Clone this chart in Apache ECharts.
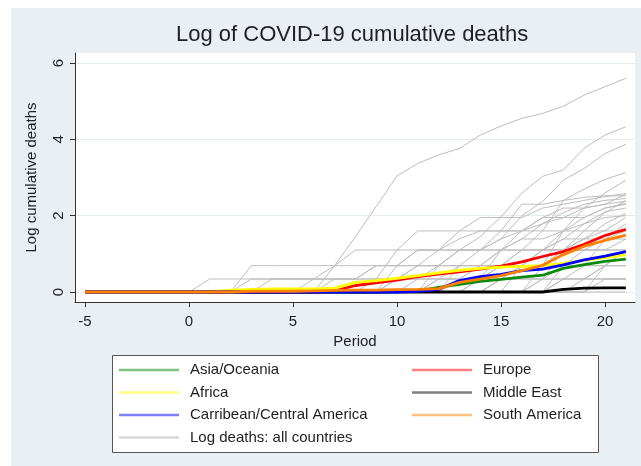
<!DOCTYPE html>
<html><head><meta charset="utf-8">
<script src="https://cdn.jsdelivr.net/npm/echarts@6/dist/echarts.min.js"></script>
<style>html,body{margin:0;padding:0;background:#fff}#c{width:641px;height:466px}</style>
</head><body><div id="c"></div>
<script>
const periods = [-5,-4,-3,-2,-1,0,1,2,3,4,5,6,7,8,9,10,11,12,13,14,15,16,17,18,19,20,21];
const xTicks = [-5,0,5,10,15,20];
const yTicks = [0,2,4,6];

const asiaOceania = [0,0,0,0,0,0,0,0,0,0,0,0,0,0,0,0.01,0.03,0.12,0.2,0.28,0.33,0.39,0.44,0.62,0.72,0.8,0.86];
const europe = [0,0,0,0,0,0,0,0,0,0,0,0,0.03,0.17,0.24,0.31,0.4,0.47,0.53,0.6,0.68,0.79,0.93,1.06,1.25,1.48,1.64];
const africa = [0,0,0,0,0,0,0,0.05,0.07,0.08,0.08,0.08,0.1,0.25,0.3,0.36,0.43,0.5,0.57,0.62,0.65,0.67,0.69,0.75,0.83,0.9,0.97];
const middleEast = [0,0,0,0,0,0,0,0,0,0,0,0,0,0,0,0,0,0,0,0,0,0,0,0.07,0.1,0.11,0.11];
const caribbean = [0,0,0,0,0,0,0,0,0,0,0,0,0,0,0,0,0.02,0.07,0.3,0.4,0.46,0.56,0.6,0.71,0.84,0.94,1.06];
const southAmerica = [0,0,0,0,0,0,0,0,0.02,0.02,0.02,0.03,0.04,0.05,0.05,0.06,0.07,0.09,0.25,0.34,0.43,0.56,0.7,0.98,1.2,1.35,1.49];

const allCountries = [
  [0,0,0,0,0,0,0,0,0.69,0.69,0.69,0.69,0.69,1.45,2.24,3.04,3.37,3.59,3.76,4.11,4.35,4.55,4.68,4.87,5.16,5.38,5.6],
  [0,0,0,0,0,0,0,0,0,0,0,0,0,0,0,0.34,0.69,0.69,1.1,1.45,1.97,2.59,3.03,3.2,3.77,4.11,4.33],
  [0,0,0,0,0,0,0,0,0,0,0,0,0,0,0,0,0,0.34,0.69,1.1,1.39,2.0,2.37,2.93,3.24,3.63,3.87],
  [0,0,0,0,0,0,0,0,0,0,0,0,0,0,0,0,0,0,0,0.34,0.69,1.1,1.6,2.4,2.7,2.95,3.13],
  [0,0,0,0,0,0,0,0,0,0,0,0,0,0,0,0,0,0,0,0,0.34,0.69,0.69,1.61,2.2,2.6,2.93],
  [0,0,0,0,0,0,0,0,0,0,0,0,0,0,0,0.69,1.1,1.1,1.6,1.95,1.95,1.95,2.2,2.3,2.4,2.5,2.58],
  [0,0,0,0,0,0,0,0,0,0,0,0,0,0,0,0,0,0.69,1.1,1.1,1.6,2.3,2.3,2.4,2.48,2.52,2.52],
  [0,0,0,0,0,0,0,0,0,0,0,0,0,0,0,0,0,0,0.34,0.69,1.1,1.39,1.79,2.08,2.3,2.4,2.45],
  [0,0,0,0,0,0,0,0,0,0,0,0,0,0,0,0,0,0,0,0.34,1.1,1.6,1.95,2.2,2.2,2.3,2.38],
  [0,0,0,0,0,0,0,0,0,0,0,0,0,0,0,0,0,0,0,0,0,0.69,1.1,1.6,1.95,2.2,2.32],
  [0,0,0,0,0,0,0,0,0,0,0,0,0,0,0,0,0,0,0,0,0.34,0.69,1.1,1.1,1.39,1.79,2.06],
  [0,0,0,0,0,0,0,0,0,0,0,0,0,0,0,0,0,0,0,0,0,0,0.69,1.1,1.39,1.61,1.95],
  [0,0,0,0,0,0,0,0,0,0,0,0,0,0,0,0,0,0,0,0,0,0,0,0.34,0.69,1.39,1.79],
  [0,0,0,0,0,0,0,0,0,0,0,0,0,0,0.34,1.1,1.6,1.6,1.6,1.6,1.6,1.6,1.6,1.6,1.6,1.6,1.6],
  [0,0,0,0,0,0,0,0,0,0,0,0,0.69,1.1,1.1,1.1,1.1,1.1,1.1,1.1,1.1,1.1,1.1,1.1,1.1,1.1,1.1],
  [0,0,0,0,0,0,0,0,0.34,0.34,0.34,0.34,0.69,0.69,0.69,0.69,0.69,0.69,0.69,0.69,0.69,0.69,0.69,0.69,0.69,0.69,0.69],
  [0,0,0,0,0,0,0,0,0,0.34,0.34,0.34,0.34,0.34,0.34,0.34,0.34,0.34,0.34,0.34,0.34,0.34,0.34,0.34,0.34,0.34,0.34],
  [0,0,0,0,0,0,0.34,0.34,0.34,0.34,0.34,0.34,0.34,0.34,0.69,0.69,1.1,1.1,1.39,1.6,1.6,1.6,1.79,1.95,2.2,2.3,2.56],
  [0,0,0,0,0,0,0,0,0,0,0,0,0.34,0.34,0.69,0.69,0.69,1.1,1.1,1.1,1.1,1.39,1.39,1.6,1.79,2.1,2.2],
  [0,0,0,0,0,0,0,0,0,0,0,0,0,0,0,0.34,0.34,0.69,0.69,0.69,1.1,1.1,1.1,1.39,1.39,1.39,1.39],
  [0,0,0,0,0,0,0,0,0,0,0,0,0,0,0,0,0,0.34,0.34,0.34,0.69,0.69,0.69,1.1,1.1,1.1,1.1],
  [0,0,0,0,0,0,0,0,0,0,0,0,0,0,0,0,0,0,0,0,0.34,0.34,0.34,0.69,0.69,0.69,0.69],
  [0,0,0,0,0,0,0,0,0,0,0,0,0,0,0,0,0,0,0,0,0,0,0.34,0.34,0.34,0.69,1.1],
  [0,0,0,0,0,0,0,0,0,0,0,0,0,0,0,0,0,0,0,0,0,0,0,0,0.34,0.69,0.69],
  [0,0,0,0,0,0,0,0,0,0,0,0,0,0,0,0,0,0,0,0,0,0,0,0.69,1.1,1.1,1.39],
  [0,0,0,0,0,0,0,0,0,0,0,0,0,0,0,0,0,0,0,0,0,0,0,0,0,0.34,0.34],
  [0,0,0,0,0,0,0,0,0,0,0,0,0,0,0,0,0,0,0,0,0,0,0,0,0,0,0],
  [0,0,0,0,0,0,0,0,0,0,0,0,0,0,0,0,0,0,0.69,0.69,0.69,1.1,1.1,1.39,1.79,1.95,2.0],
  [0,0,0,0,0,0,0,0,0,0,0,0.34,0.34,0.34,0.34,0.34,0.69,0.69,1.1,1.1,1.39,1.6,1.95,1.95,1.95,2.2,2.3],
  [0,0,0,0,0,0,0,0,0,0,0,0,0,0,0,0,0,0,0,0,0,0,0.34,1.1,1.6,2.08,2.4],
  [0,0,0,0,0,0,0,0,0,0,0,0,0,0,0,0,0.34,0.34,0.34,0.69,0.69,0.69,1.1,1.1,1.1,1.39,1.6],
  [0,0,0,0,0,0,0,0,0,0,0,0,0,0,0,0,0,0,0,0,0,0,0,0.34,0.34,0.34,0.34],
  [0,0,0,0,0,0,0,0,0,0,0,0,0,0,0,0,0,0,0,0,0,0,0,0,0,0.69,1.1]
];

const regionNames = ['Asia/Oceania','Europe','Africa','Middle East','Carribean/Central America','South America'];
const regionData = [asiaOceania, europe, africa, middleEast, caribbean, southAmerica];
const regionLineColors = ['#0a8a0a','#ff0000','#ffff00','#000000','#0000ff','#ff8000'];
const regionLegendColors = ['#80c080','#ff8080','#ffff80','#808080','#8080ff','#ffc080'];
const allName = 'Log deaths: all countries';

const FONT = 'Liberation Sans, Arial, sans-serif';
const TXT = '#1e1e24';
const toPts = arr => periods.map((p, i) => [p, arr[i]]);

const series = [];
allCountries.forEach(a => series.push({
  name: allName, type: 'line', data: toPts(a), symbol: 'none', silent: true,
  lineStyle: {color: '#bdbdbd', width: 1}, itemStyle: {color: '#d8d8d8'}
}));
const drawOrder = [0, 1, 2, 3, 4, 5];
drawOrder.forEach(i => series.push({
  name: regionNames[i], type: 'line', data: toPts(regionData[i]), symbol: 'none', silent: true,
  lineStyle: {color: regionLineColors[i], width: 2.8}, itemStyle: {color: regionLegendColors[i]}
}));

const legendText = {fontSize: 15, color: TXT, fontFamily: FONT, lineHeight: 22, padding: [0, 0, 0, 6]};
const legItem = (name, color) => ({name: name, itemStyle: {color: color}});

const option = {
  animation: false,
  backgroundColor: '#e9eff2',
  textStyle: {fontFamily: FONT},
  title: {
    text: 'Log of COVID-19 cumulative deaths', left: 176, top: 24, padding: 0,
    textStyle: {fontSize: 22, fontWeight: 'normal', color: TXT, fontFamily: FONT}
  },
  graphic: [
    {type: 'rect', shape: {x: 0, y: 0, width: 641, height: 8}, style: {fill: '#ffffff'}, silent: true},
    {type: 'rect', shape: {x: 0, y: 0, width: 11, height: 466}, style: {fill: '#ffffff'}, silent: true},
    {type: 'rect', shape: {x: 112.5, y: 355.5, width: 486, height: 97}, style: {fill: '#ffffff', stroke: '#555555', lineWidth: 1}, silent: true}
  ],
  grid: {left: 75, right: 6, top: 53, bottom: 164, show: true, backgroundColor: '#ffffff', borderWidth: 0},
  xAxis: {
    type: 'value', min: -5.48, max: 21.44,
    name: 'Period', nameLocation: 'middle', nameGap: 28,
    nameTextStyle: {fontSize: 15, color: TXT, fontFamily: FONT},
    axisLine: {show: true, onZero: false, lineStyle: {color: '#333', width: 1}},
    axisTick: {show: true, length: 5, customValues: xTicks, lineStyle: {color: '#333'}},
    axisLabel: {customValues: xTicks, fontSize: 15, color: TXT, margin: 12, fontFamily: FONT},
    splitLine: {show: false}
  },
  yAxis: {
    type: 'value', min: -0.262, max: 6.262,
    name: 'Log cumulative deaths', nameLocation: 'middle', nameGap: 36,
    nameTextStyle: {fontSize: 15, color: TXT, fontFamily: FONT},
    axisLine: {show: true, onZero: false, lineStyle: {color: '#333', width: 1}},
    axisTick: {show: true, length: 5, customValues: yTicks, lineStyle: {color: '#333'}},
    axisLabel: {customValues: yTicks, fontSize: 15, color: TXT, margin: 9, rotate: 90, fontFamily: FONT},
    splitLine: {show: true, lineStyle: {color: '#e4ecef', width: 1}}
  },
  legend: [
    {
      orient: 'vertical', left: 119, top: 359, padding: 0, itemGap: 0.5,
      itemWidth: 60, itemHeight: 2.5, icon: 'rect', selectedMode: false,
      textStyle: legendText,
      data: [legItem(regionNames[0], regionLegendColors[0]), legItem(regionNames[2], regionLegendColors[2]),
             legItem(regionNames[4], regionLegendColors[4]), legItem(allName, '#d8d8d8')]
    },
    {
      orient: 'vertical', left: 412, top: 359, padding: 0, itemGap: 0.5,
      itemWidth: 60, itemHeight: 2.5, icon: 'rect', selectedMode: false,
      textStyle: legendText,
      data: [legItem(regionNames[1], regionLegendColors[1]), legItem(regionNames[3], regionLegendColors[3]),
             legItem(regionNames[5], regionLegendColors[5])]
    }
  ],
  series: series
};

const chart = echarts.init(document.getElementById('c'), null, {renderer: 'canvas'});
chart.setOption(option);
</script>
</body></html>
